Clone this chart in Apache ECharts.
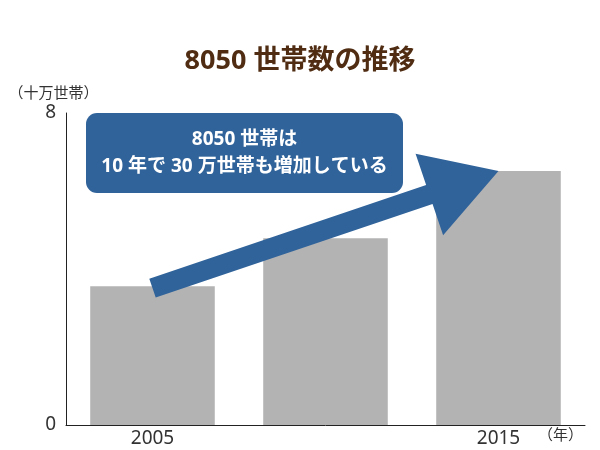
<!DOCTYPE html>
<html>
<head>
<meta charset="utf-8">
<script src="https://cdn.jsdelivr.net/npm/echarts@6/dist/echarts.min.js"></script>
<style>html,body{margin:0;padding:0;background:#fff}#c{width:600px;height:450px}</style>
</head>
<body>
<div id="c"></div>
<script>
const categories = ['2005', '2010', '2015'];
const shownYears = ['2005', '2015'];
const households = [3.56, 4.79, 6.51];
const yTickValues = [0, 8];
const arrowFrom = [0.03, 3.51];
const arrowTo = [2.01, 6.51];
const titleText = '8050 世帯数の推移';
const calloutText = '8050 世帯は\n10 年で 30 万世帯も増加している';
const yUnit = '（十万世帯）';
const xUnit = '（年）';

const FONT = '"Noto Sans", "Noto Sans CJK JP", sans-serif';
const BLUE = '#30639a';

const chart = echarts.init(document.getElementById('c'));
chart.setOption({
  backgroundColor: '#fff',
  animation: false,
  title: {
    text: titleText,
    left: 'center',
    top: 43,
    textStyle: { fontFamily: FONT, fontSize: 27, fontWeight: 'bold', color: '#4f2c12' }
  },
  grid: { left: 66, right: 15, top: 113, bottom: 25 },
  xAxis: {
    type: 'category',
    data: categories,
    boundaryGap: true,
    axisLine: { lineStyle: { color: '#222', width: 1 } },
    axisTick: { show: false },
    axisLabel: {
      margin: 4,
      fontFamily: FONT, fontSize: 19, color: '#333',
      formatter: v => shownYears.includes(v) ? v : ''
    }
  },
  yAxis: {
    type: 'value',
    min: yTickValues[0],
    max: yTickValues[yTickValues.length - 1],
    interval: yTickValues[1] - yTickValues[0],
    name: yUnit,
    nameLocation: 'end',
    nameGap: 12,
    nameTextStyle: { fontFamily: FONT, fontSize: 15, color: '#333', align: 'center', padding: [0, 25, 0, 0] },
    axisLine: { show: true, lineStyle: { color: '#222', width: 1 } },
    axisTick: { show: false },
    splitLine: { show: false },
    axisLabel: { margin: 10, fontFamily: FONT, fontSize: 19, color: '#333' }
  },
  series: [
    {
      type: 'bar',
      data: households,
      barWidth: '72%',
      itemStyle: { color: '#b3b3b3' },
      z: 2
    },
    {
      type: 'custom',
      data: [[arrowFrom[0], arrowFrom[1], arrowTo[0], arrowTo[1]]],
      encode: { x: [0, 2], y: [1, 3] },
      z: 5,
      renderItem: function (params, api) {
        const p0 = api.coord([api.value(0), api.value(1)]);
        const p1 = api.coord([api.value(2), api.value(3)]);
        const dx = p1[0] - p0[0], dy = p1[1] - p0[1];
        const L = Math.hypot(dx, dy);
        const ux = dx / L, uy = dy / L, nx = -uy, ny = ux;
        const headLen = 73, headHalf = 43, shaftHalf = 10;
        const bx = p1[0] - ux * headLen, by = p1[1] - uy * headLen;
        const pts = [
          [p0[0] + nx * shaftHalf, p0[1] + ny * shaftHalf],
          [bx + nx * shaftHalf, by + ny * shaftHalf],
          [bx + nx * headHalf, by + ny * headHalf],
          [p1[0], p1[1]],
          [bx - nx * headHalf, by - ny * headHalf],
          [bx - nx * shaftHalf, by - ny * shaftHalf],
          [p0[0] - nx * shaftHalf, p0[1] - ny * shaftHalf]
        ];
        return { type: 'polygon', shape: { points: pts }, style: { fill: BLUE } };
      }
    }
  ],
  graphic: [
    {
      type: 'group',
      left: 86,
      top: 113,
      z: 10,
      children: [
        {
          type: 'rect',
          shape: { x: 0, y: 0, width: 317, height: 80, r: 11 },
          style: { fill: BLUE }
        },
        {
          type: 'text',
          x: 158.5,
          y: 40,
          style: {
            text: calloutText,
            fill: '#fff',
            fontFamily: FONT,
            fontSize: 19,
            fontWeight: 'bold',
            lineHeight: 27,
            align: 'center',
            verticalAlign: 'middle'
          }
        }
      ]
    },
    {
      type: 'text',
      left: 538,
      top: 428,
      style: { text: xUnit, fill: '#333', fontFamily: FONT, fontSize: 15 }
    }
  ]
});
</script>
</body>
</html>
